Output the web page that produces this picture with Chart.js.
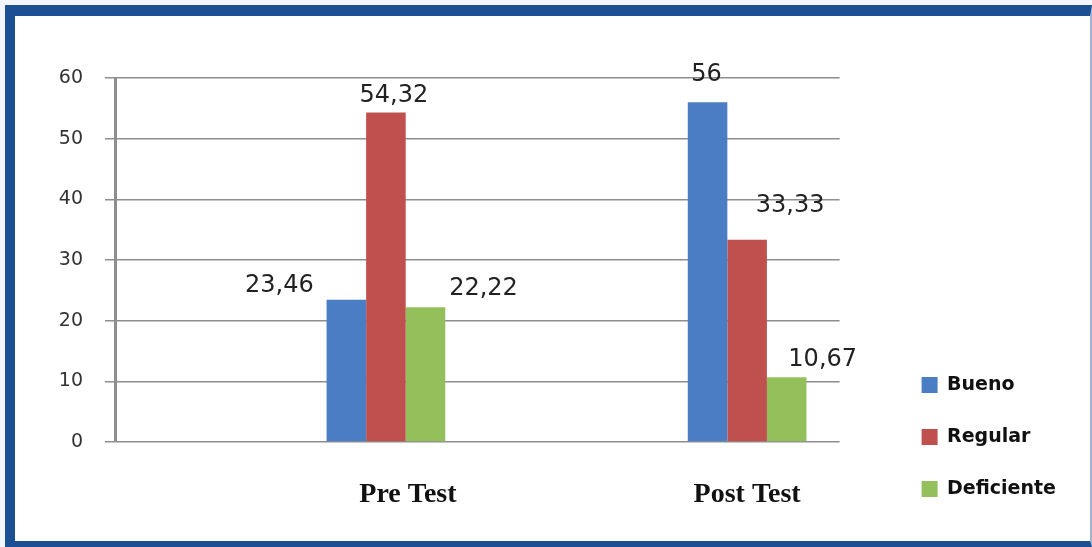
<!DOCTYPE html>
<html>
<head>
<meta charset="utf-8">
<script src="https://cdn.jsdelivr.net/npm/chart.js@4.4.1/dist/chart.umd.min.js"></script>
<style>
  html, body { margin: 0; padding: 0; width: 1092px; height: 547px; overflow: hidden; background: #f2f6fb; }
  #frame {
    position: absolute; left: 5px; top: 5px; width: 1087px; height: 542px; box-sizing: border-box;
    border-left: 10px solid #1c4f94; border-top: 11px solid #1c4f94;
    border-bottom: 6px solid #1c4f94; border-right: 2px solid #9fb4cf; background: #ffffff;
  }
  #chart { position: absolute; left: 0; top: 0; }
</style>
</head>
<body>
<div id="frame"></div>
<canvas id="chart" width="1092" height="547"></canvas>
<script>
// Results per evaluation moment (percent)
const categories = ['Pre Test', 'Post Test'];
const seriesNames = ['Bueno', 'Regular', 'Deficiente'];
const bueno = [23.46, 56];
const regular = [54.32, 33.33];
const deficiente = [22.22, 10.67];
const yTicks = [0, 10, 20, 30, 40, 50, 60];

// Presentation settings
const seriesColors = ['#4a7dc4', '#c0504d', '#93c05a'];
// Value label placement relative to the top centre of each bar, in px
const labelOffsets = [
  [[-67, -14], [-1, -28]],
  [[8, -17], [43, -34]],
  [[58, -18], [36, -18]]
];
// Small shift of the category captions along the x axis (in category units)
const tickNudge = [0.061, 0];

const seriesValues = [bueno, regular, deficiente];

const datasets = seriesNames.map((name, s) => ({
  label: name,
  data: seriesValues[s].map((v, i) => ({ x: i, y: v })),
  backgroundColor: seriesColors[s],
  borderWidth: 0,
  categoryPercentage: 0.35,
  barPercentage: 1
}));

const fmt = v => String(v).replace('.', ',');

const valueLabels = {
  id: 'valueLabels',
  afterDatasetsDraw(chart) {
    const ctx = chart.ctx;
    ctx.save();
    ctx.font = '24px "DejaVu Sans"';
    ctx.fillStyle = '#222222';
    ctx.textAlign = 'center';
    ctx.textBaseline = 'middle';
    chart.data.datasets.forEach((ds, s) => {
      const meta = chart.getDatasetMeta(s);
      meta.data.forEach((bar, i) => {
        const [dx, dy] = labelOffsets[s][i];
        ctx.fillText(fmt(seriesValues[s][i]), bar.x + dx, bar.y + dy);
      });
    });
    ctx.restore();
  }
};

new Chart(document.getElementById('chart'), {
  type: 'bar',
  data: { datasets },
  options: {
    responsive: false,
    animation: false,
    devicePixelRatio: 1,
    layout: { padding: { top: 78, bottom: 15.5, left: 0, right: 26 } },
    plugins: {
      tooltip: { enabled: false },
      legend: {
        position: 'right',
        align: 'end',
        labels: {
          boxWidth: 16,
          boxHeight: 16,
          padding: 33,
          color: '#111111',
          font: { family: 'DejaVu Sans', size: 19, weight: 'bold' }
        }
      }
    },
    scales: {
      x: {
        type: 'linear',
        offset: false,
        min: -0.75,
        max: 1.256,
        grid: { display: false, drawTicks: false, offset: false },
        border: { display: false },
        afterBuildTicks: s => { s.ticks = categories.map((c, i) => ({ value: i + tickNudge[i] })); },
        ticks: {
          autoSkip: false,
          maxRotation: 0,
          padding: 36,
          color: '#111111',
          font: { family: 'Liberation Serif', size: 28, weight: 'bold' },
          callback: v => categories[Math.round(v)]
        },
        afterFit: s => { s.height = 89.5; }
      },
      y: {
        min: 0,
        max: 60,
        afterBuildTicks: s => { s.ticks = yTicks.map(v => ({ value: v })); },
        grid: { color: '#8e8e8e', lineWidth: 1.5, drawTicks: true, tickLength: 10 },
        border: { color: '#8e8e8e', width: 3 },
        ticks: { padding: 22, color: '#333333', font: { family: 'DejaVu Sans', size: 19 } },
        afterFit: s => { s.width = 115; }
      },
      yr: {
        position: 'right',
        display: true,
        grid: { display: false, drawTicks: false },
        border: { display: false },
        ticks: { display: false },
        afterFit: s => { s.width = 49; }
      }
    }
  },
  plugins: [valueLabels]
});
</script>
</body>
</html>
